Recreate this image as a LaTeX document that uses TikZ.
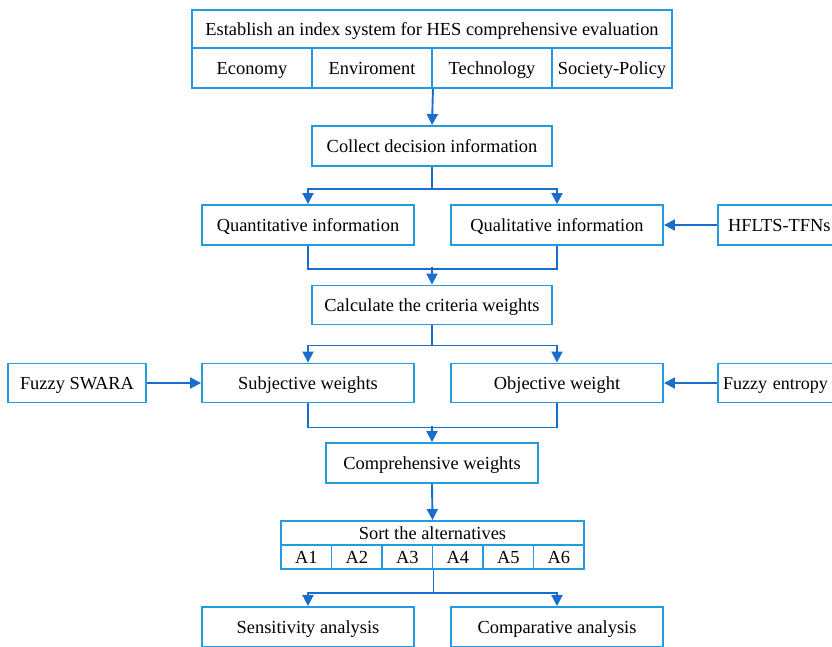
\documentclass[tikz,border=0pt]{standalone}
\usepackage{fontspec}
\setmainfont{Liberation Serif}
\usetikzlibrary{arrows.meta}
\definecolor{boxblue}{RGB}{35,155,225}
\definecolor{lineblue}{RGB}{25,110,205}
\begin{document}
\begin{tikzpicture}[x=1pt, y=-1pt]
				    \tikzstyle{box}=[draw=boxblue,line width=1.9pt,rectangle,minimum height=40pt,inner sep=0pt,text height=15pt,text depth=3pt,font=\fontsize{18.4}{20}\selectfont]
				    \tikzstyle{small}=[box,minimum height=24pt]
				    \tikzstyle{side}=[box,minimum width=130pt,text width=110pt,align=left]
				    \tikzstyle{edge}=[draw=lineblue,line width=1.9pt]
				    \tikzstyle{arr}=[edge,-{Triangle[length=11pt,width=11pt]}]
				    \useasboundingbox (0,0) rectangle (832,646);
				    % index system
				    \node[box,minimum width=480pt,minimum height=38pt] (idx) at (432,29) {Establish an index system for HES comprehensive evaluation};
				    \node[box,minimum width=120pt] (eco) at (252,68) {Economy};
				    \node[box,minimum width=120pt] (env) at (372,68) {Enviroment};
				    \node[box,minimum width=120pt] (tec) at (492,68) {Technology};
				    \node[box,minimum width=120pt] (soc) at (612,68) {Society-Policy};
				    \node[box,minimum width=240pt] (col) at (432,146) {Collect decision information};
				    \node[box,minimum width=212pt] (qnt) at (308,225) {Quantitative information};
				    \node[box,minimum width=212pt] (qlt) at (557,225) {Qualitative information};
				    \node[side] (hfl) at (783,225) {HFLTS-TFNs};
				    \node[box,minimum width=240pt,minimum height=39pt] (cal) at (432,305) {Calculate the criteria weights};
				    \node[box,minimum width=138pt,minimum height=39pt] (swa) at (77,383) {Fuzzy SWARA};
				    \node[box,minimum width=212pt,minimum height=39pt] (sub) at (308,383) {Subjective weights};
				    \node[box,minimum width=212pt,minimum height=39pt] (obj) at (557,383) {Objective weight};
				    \node[side,minimum height=39pt,text width=120pt,font=\fontsize{18}{20}\selectfont] (ent) at (783,383) {Fuzzy entropy};
				    \node[box,minimum width=212pt] (cmp) at (432,463) {Comprehensive weights};
				    % sorting
				    \node[small,minimum width=303pt] (srt) at (432.5,533) {Sort the alternatives};
				    \foreach \i in {1,...,6}
				        \node[small,minimum width=50.5pt] (a\i) at (255.75+50.5*\i,557) {A\i};
				    \node[box,minimum width=212pt] (sen) at (308,627) {Sensitivity analysis};
				    \node[box,minimum width=212pt] (com) at (557,627) {Comparative analysis};
				    % connectors
				    \draw[arr] (env.south east) -- (col.north);
				    \draw[edge] (col.south) -- ++(0,22) coordinate (s1);
				    \draw[arr] (s1) -| (qnt.north);
				    \draw[arr] (s1) -| (qlt.north);
				    \draw[arr] (hfl.west) -- (qlt.east);
				    \draw[edge] (qnt.south) -- ++(0,23) -| (qlt.south);
				    \draw[arr] (cal.north) ++(0,-18) -- (cal.north);
				    \draw[edge] (cal.south) -- ++(0,20) coordinate (s2);
				    \draw[arr] (s2) -| (sub.north);
				    \draw[arr] (s2) -| (obj.north);
				    \draw[arr] (swa.east) -- (sub.west);
				    \draw[arr] (ent.west) -- (obj.east);
				    \draw[edge] (sub.south) -- ++(0,24) -| (obj.south);
				    \draw[arr] (cmp.north) ++(0,-16) -- (cmp.north);
				    \draw[arr] (cmp.south) -- (srt.north);
				    \draw[edge] (a3.south east) -- ++(0,23) coordinate (s3);
				    \draw[arr] (s3) -| (sen.north);
				    \draw[arr] (s3) -| (com.north);
				\end{tikzpicture}
\end{document}
